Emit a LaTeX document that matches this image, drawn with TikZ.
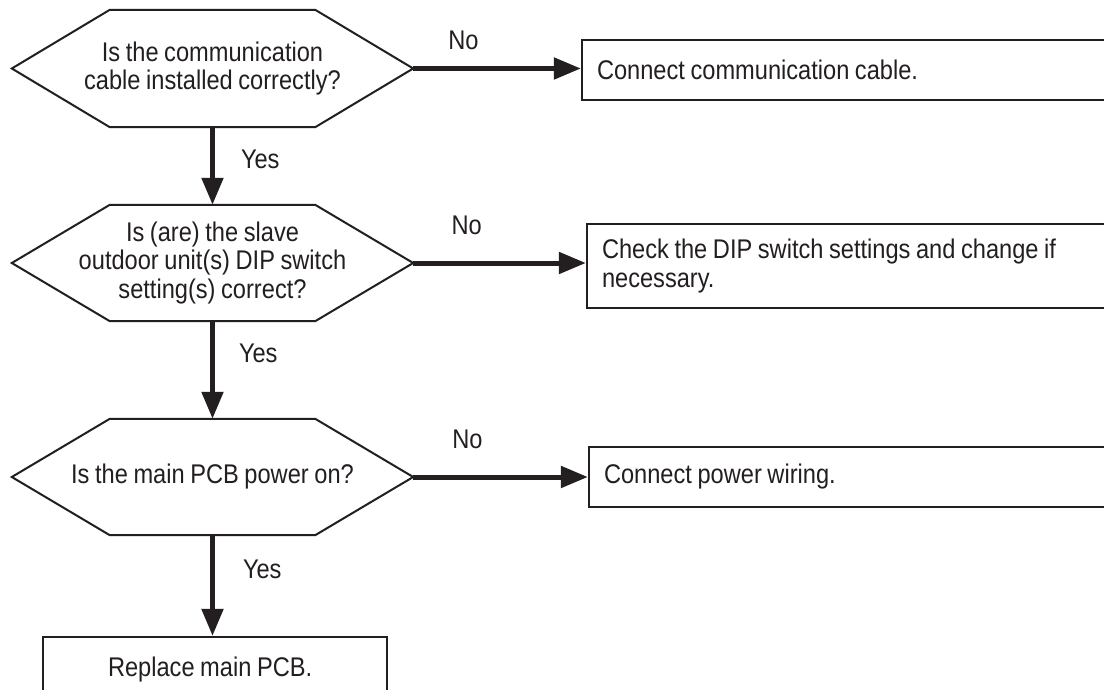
\documentclass[tikz,border=0pt]{standalone}
\usepackage{fontspec}
\setmainfont{Liberation Sans}[FakeStretch=0.875,WordSpace=0.85]
\usetikzlibrary{arrows.meta,calc}
\definecolor{ink}{HTML}{231F20}
\newcommand\hexof[1]{%
  \draw[hexline] (#1.west) -- ([xshift=98pt]#1.north west) -- ([xshift=-98pt]#1.north east)
    -- (#1.east) -- ([xshift=-98pt]#1.south east) -- ([xshift=98pt]#1.south west) -- cycle;}
\begin{document}
\begin{tikzpicture}[x=1pt,y=-1pt,
  txt/.style={text=ink,font=\fontsize{27}{28.5}\selectfont},
  hexn/.style={txt,minimum width=401pt,minimum height=117pt,inner sep=0pt,align=center},
  hexline/.style={draw=ink,line width=2pt},
  box/.style={txt,draw=ink,line width=2.2pt,inner xsep=15pt,inner ysep=0pt,align=flush left},
  arr/.style={draw=ink,line width=5pt,-{Triangle[length=27pt,width=21pt]}},
  lbl/.style={txt,inner sep=0pt}]
\useasboundingbox (0,0) rectangle (1104,690);
\fill[white] (0,0) rectangle (1104,690);
\begin{scope}
\clip (0,0) rectangle (1104,690);
% decisions
\node[hexn] (q1) at (212.5,68.5) {Is the communication\\cable installed correctly?};
\hexof{q1}
\node[hexn,minimum height=116pt] (q2) at (212.5,263) {Is (are) the slave\\outdoor unit(s) DIP switch\\setting(s) correct?};
\hexof{q2}
\node[hexn,minimum height=116pt] (q3) at (212.5,477) {Is the main PCB power on?};
\hexof{q3}
% actions
\node[box,minimum height=60pt,text width=508pt] (b1) at (851,70) {Connect communication cable.};
\node[box,minimum height=84pt,text width=503pt] (b2) at (853.5,266) {Check the DIP switch settings and change if\\necessary.};
\node[box,minimum height=60pt,text width=501pt] (b3) at (854.5,477) {Connect power wiring.};
\node[box,minimum height=66pt,text width=214pt,inner xsep=65pt] (r) at (215,670) {Replace main PCB.};
% connectors
\draw[arr] (q1.east) -- node[lbl,pos=0.3,above=16pt] {No} (q1.east -| b1.west);
\draw[arr] (q2.east) -- node[lbl,pos=0.31,above=26pt] {No} (q2.east -| b2.west);
\draw[arr] (q3.east) -- node[lbl,pos=0.31,above=26pt] {No} (q3.east -| b3.west);
\draw[arr] (q1.south) -- node[lbl,pos=0.41,right=26pt] {Yes} (q2.north);
\draw[arr] (q2.south) -- node[lbl,pos=0.33,right=24pt] {Yes} (q3.north);
\draw[arr] (q3.south) -- node[lbl,pos=0.34,right=28pt] {Yes} (q3.south |- r.north);
\end{scope}
\end{tikzpicture}
\end{document}
